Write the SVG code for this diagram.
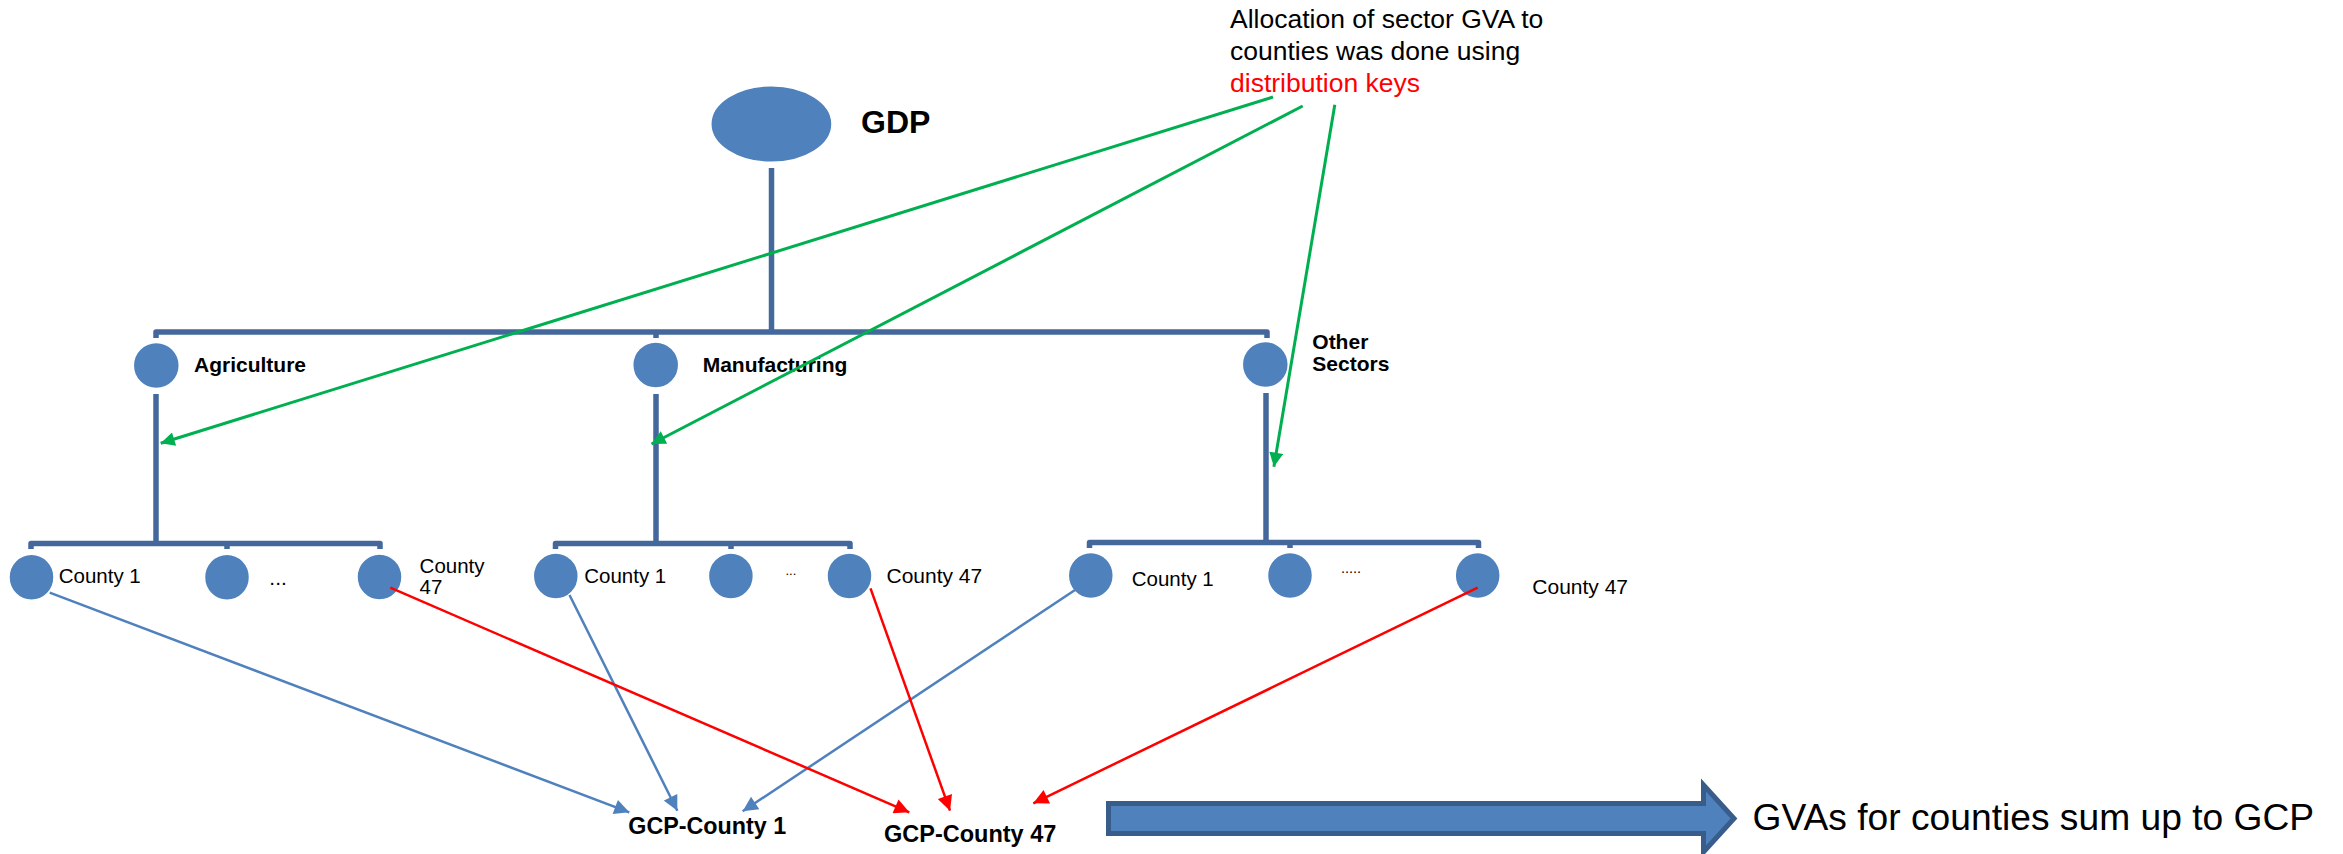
<svg xmlns="http://www.w3.org/2000/svg" width="2343" height="854" viewBox="0 0 2343 854">
<defs>
<style>
.node{fill:#4F81BD;stroke:#FFFFFF;stroke-width:1.5}
.bar{fill:none;stroke:#44689B;stroke-width:5.5;stroke-linejoin:round;stroke-linecap:butt}
.lbl{font-family:"Liberation Sans",Arial,sans-serif;fill:#000000}
.b{font-weight:bold}
.green{fill:none;stroke:#00B050;stroke-width:3}
.blue{fill:none;stroke:#4F81BD;stroke-width:2.5}
.red{fill:none;stroke:#FF0000;stroke-width:2.5}
</style>
<marker id="ag" viewBox="0 0 10 10" refX="10" refY="5" markerUnits="userSpaceOnUse" markerWidth="18" markerHeight="14" orient="auto"><path d="M0,0 L10,5 L0,10 z" fill="#00B050"/></marker>
<marker id="ab" viewBox="0 0 10 10" refX="10" refY="5" markerUnits="userSpaceOnUse" markerWidth="17" markerHeight="15" orient="auto"><path d="M0,0 L10,5 L0,10 z" fill="#4F81BD"/></marker>
<marker id="ar" viewBox="0 0 10 10" refX="10" refY="5" markerUnits="userSpaceOnUse" markerWidth="17" markerHeight="15" orient="auto"><path d="M0,0 L10,5 L0,10 z" fill="#FF0000"/></marker>
</defs>
<rect width="2343" height="854" fill="#FFFFFF"/>

<g id="tree-lines">
<path class="bar" d="M771.5,168 V332"/>
<path class="bar" d="M156,338 V332 H1267 V338"/>
<path class="bar" d="M656,332 V338"/>
<path class="bar" d="M156,394 V543"/>
<path class="bar" d="M656,394 V543"/>
<path class="bar" d="M1266,393 V542"/>
<path class="bar" d="M31,549 V543.5 H380 V549"/>
<path class="bar" d="M227,543.5 V549"/>
<path class="bar" d="M555.5,549 V543.5 H850 V549"/>
<path class="bar" d="M731,543.5 V549"/>
<path class="bar" d="M1089.5,548 V542.5 H1478.5 V548"/>
<path class="bar" d="M1290,542.5 V548"/>
</g>

<g id="gdp">
<ellipse class="node" cx="771.4" cy="124" rx="60.6" ry="38.3"/>
<text class="lbl b" x="861" y="133" font-size="32">GDP</text>
</g>

<g id="agriculture">
<circle class="node" cx="156.3" cy="365.5" r="23"/>
<text class="lbl b" x="194" y="371.7" font-size="21">Agriculture</text>
</g>
<g id="manufacturing">
<circle class="node" cx="655.7" cy="365" r="23"/>
<text class="lbl b" x="702.7" y="371.7" font-size="21">Manufacturing</text>
</g>
<g id="other-sectors">
<circle class="node" cx="1265.3" cy="364.5" r="23"/>
<text class="lbl b" font-size="21"><tspan x="1312.3" y="349">Other</tspan><tspan x="1312.3" y="370.7">Sectors</tspan></text>
</g>

<g id="agri-county1">
<ellipse class="node" cx="31.5" cy="577.2" rx="22.5" ry="23"/>
<text class="lbl" x="58.7" y="583.3" font-size="20.5">County 1</text>
</g>
<g id="agri-dots">
<ellipse class="node" cx="227" cy="577.2" rx="22.5" ry="23"/>
<text class="lbl" x="269.3" y="585" font-size="21">...</text>
</g>
<g id="agri-county47">
<ellipse class="node" cx="379.5" cy="577" rx="22.5" ry="23"/>
<text class="lbl" font-size="20.5"><tspan x="419.6" y="573">County</tspan><tspan x="419.6" y="594">47</tspan></text>
</g>

<g id="manu-county1">
<ellipse class="node" cx="555.8" cy="576" rx="22.5" ry="23"/>
<text class="lbl" x="584.2" y="583" font-size="20.5">County 1</text>
</g>
<g id="manu-dots">
<ellipse class="node" cx="730.9" cy="576" rx="22.5" ry="23"/>
<text class="lbl" x="785.5" y="575" font-size="13">...</text>
</g>
<g id="manu-county47">
<ellipse class="node" cx="849.5" cy="576" rx="22.5" ry="23"/>
<text class="lbl" x="886.5" y="582.7" font-size="21">County 47</text>
</g>

<g id="other-county1">
<ellipse class="node" cx="1090.8" cy="575.5" rx="22.5" ry="23"/>
<text class="lbl" x="1131.7" y="585.7" font-size="20.5">County 1</text>
</g>
<g id="other-dots">
<ellipse class="node" cx="1290" cy="575.5" rx="22.5" ry="23"/>
<text class="lbl" x="1341" y="572.7" font-size="14.5">.....</text>
</g>
<g id="other-county47">
<ellipse class="node" cx="1477.7" cy="575.5" rx="22.5" ry="23"/>
<text class="lbl" x="1532.3" y="594" font-size="21">County 47</text>
</g>

<g id="gcp-county1">
<text class="lbl b" x="628.3" y="834" font-size="23.3">GCP-County 1</text>
</g>
<g id="gcp-county47">
<text class="lbl b" x="884" y="841.7" font-size="23.5">GCP-County 47</text>
</g>

<g id="note">
<text class="lbl" font-size="26.5"><tspan x="1230" y="28.3">Allocation of sector GVA to</tspan><tspan x="1230" y="60">counties was done using</tspan><tspan x="1230" y="91.7" fill="#FF0000">distribution keys</tspan></text>
</g>

<g id="sum-arrow">
<polygon points="1108.5,803.5 1703.5,803.5 1703.5,785 1734,818.5 1703.5,852 1703.5,833.5 1108.5,833.5" fill="#4F81BD" stroke="#385D8A" stroke-width="5" stroke-linejoin="miter"/>
<text class="lbl" x="1752.6" y="830" font-size="37.2">GVAs for counties sum up to GCP</text>
</g>

<g id="connectors">
<line class="green" x1="1273" y1="97" x2="160.7" y2="443.3" marker-end="url(#ag)"/>
<line class="green" x1="1302.7" y1="106" x2="651.5" y2="444" marker-end="url(#ag)"/>
<line class="green" x1="1334.8" y1="104.7" x2="1273.9" y2="466.7" stroke-width="2.5" marker-end="url(#ag)"/>
<line class="blue" x1="49.7" y1="592.7" x2="629.3" y2="812.3" marker-end="url(#ab)"/>
<line class="blue" x1="569.5" y1="595" x2="677.3" y2="810.7" marker-end="url(#ab)"/>
<line class="blue" x1="1075" y1="590" x2="742.7" y2="811.3" marker-end="url(#ab)"/>
<line class="red" x1="390.3" y1="587.7" x2="909.3" y2="812.3" stroke-width="3" marker-end="url(#ar)"/>
<line class="red" x1="870.5" y1="588.3" x2="950" y2="810.7" marker-end="url(#ar)"/>
<line class="red" x1="1477.7" y1="587.7" x2="1033.3" y2="803.3" marker-end="url(#ar)"/>
</g>
</svg>
